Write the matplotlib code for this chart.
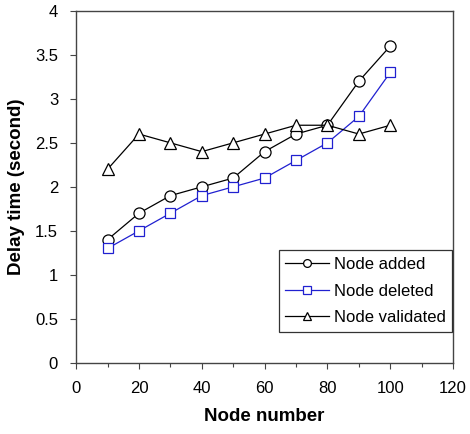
import matplotlib
matplotlib.use("Agg")
import matplotlib.pyplot as plt
from matplotlib.ticker import MultipleLocator

plt.rcParams['font.family'] = ['Liberation Sans', 'DejaVu Sans']

nodes = [10, 20, 30, 40, 50, 60, 70, 80, 90, 100]
added = [1.4, 1.7, 1.9, 2.0, 2.1, 2.4, 2.6, 2.7, 3.2, 3.6]
deleted = [1.3, 1.5, 1.7, 1.9, 2.0, 2.1, 2.3, 2.5, 2.8, 3.3]
validated = [2.2, 2.6, 2.5, 2.4, 2.5, 2.6, 2.7, 2.7, 2.6, 2.7]
labels = ["Node added", "Node deleted", "Node validated"]
yticklabels = ['0', '0.5', '1', '1.5', '2', '2.5', '3', '3.5', '4']

fig = plt.figure(figsize=(4.7, 4.34), dpi=100)
ax = fig.add_axes([0.162, 0.164, 0.802, 0.811])

ms = 8
ax.plot(nodes, added, color='black', lw=0.9, marker='o', ms=ms, mfc='white', mec='black', mew=0.9, label=labels[0])
ax.plot(nodes, deleted, color='#2020d0', lw=0.9, marker='s', ms=ms - 0.5, mfc='white', mec='#2020d0', mew=0.9, label=labels[1])
ax.plot(nodes, validated, color='black', lw=0.9, marker='^', ms=ms + 0.5, mfc='white', mec='black', mew=0.9, label=labels[2])

ax.set_xlim(0, 120)
ax.set_ylim(0, 4)
ax.set_xticks(range(0, 121, 20))
ax.xaxis.set_minor_locator(MultipleLocator(10))
ax.set_yticks([0, 0.5, 1, 1.5, 2, 2.5, 3, 3.5, 4])
ax.set_yticklabels(yticklabels)
ax.tick_params(axis='both', which='major', labelsize=12, length=4, width=0.8, color='#444444')
ax.tick_params(axis='x', which='major', pad=9)
ax.tick_params(axis='y', which='major', pad=9)
ax.tick_params(axis='x', which='minor', length=3, width=0.8, color='#444444')
for s in ax.spines.values():
    s.set_color('#444444')
    s.set_linewidth(1.0)

ax.set_xlabel('Node number', fontsize=13.5, fontweight='bold', labelpad=9)
ax.set_ylabel('Delay time (second)', fontsize=13.5, fontweight='bold', labelpad=7)

leg = ax.legend(loc='lower right', bbox_to_anchor=(0.998, 0.088), fontsize=12, frameon=True,
                fancybox=False, edgecolor='black', handlelength=2.6, markerscale=0.7,
                borderpad=0.4, labelspacing=0.7, handletextpad=0.3, borderaxespad=0.0)
leg.get_frame().set_linewidth(0.9)

fig.savefig('out.png', dpi=100)
